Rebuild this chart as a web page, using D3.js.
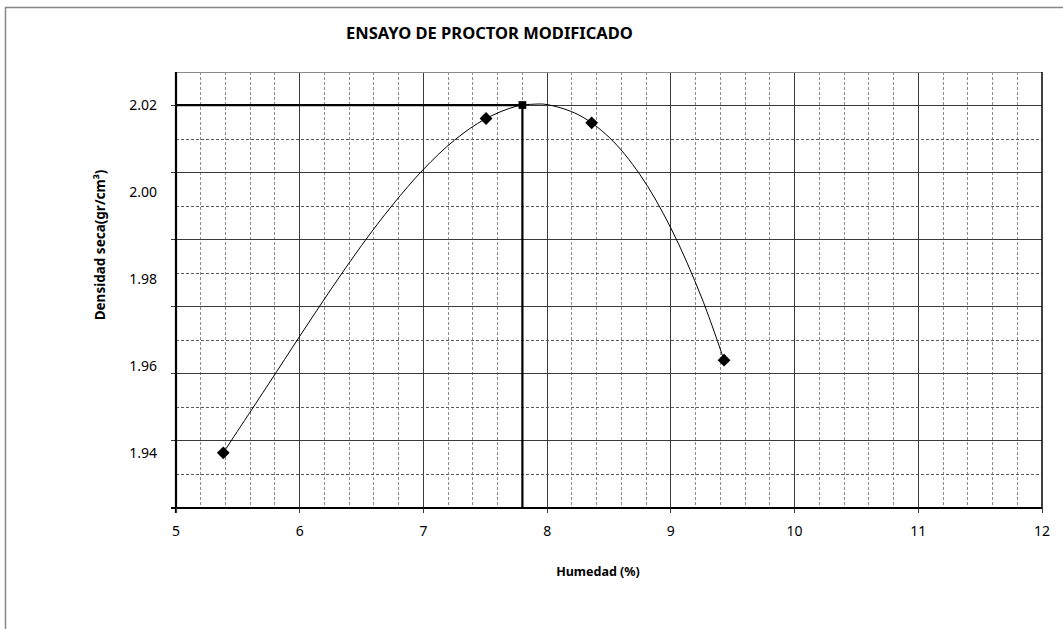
<!DOCTYPE html>
<html>
<head>
<meta charset="utf-8">
<title>Ensayo de Proctor modificado</title>
<script src="https://cdn.jsdelivr.net/npm/d3@7"></script>
<style>
  body{margin:0;background:#fff;font-family:"Noto Sans",sans-serif;}
  .tick-label{font-size:14px;fill:#000;}
  .axis-title{font-weight:700;fill:#000;}
</style>
</head>
<body>
<div id="chart"></div>
<script>
// puntos del ensayo
var humedad  = [5.382, 7.506, 8.36, 9.43];
var densidad = [1.9400, 2.0169, 2.0159, 1.9613];

// curva de ajuste
var curvaX = [5.382, 5.75, 6.0, 6.25, 6.5, 6.75, 7.0, 7.25, 7.5, 7.75, 7.9, 8.0, 8.25, 8.5, 8.75, 9.0, 9.25, 9.43];
var curvaY = [1.9400, 1.9559, 1.9668, 1.9775, 1.9877, 1.9970, 2.0052, 2.0119, 2.0168, 2.0197, 2.0202, 2.0201, 2.0178, 2.0126, 2.0040, 1.9917, 1.9756, 1.9613];

// densidad maxima / humedad optima
var maxHumedad = 7.8, maxDensidad = 2.02;

var xTicks = [5, 6, 7, 8, 9, 10, 11, 12];
var yTicks = [2.02, 2.00, 1.98, 1.96, 1.94];

var margin = {top: 72, left: 176, right: 21, bottom: 121},
    W = 1063, H = 629,
    width = W - margin.left - margin.right,
    height = H - margin.top - margin.bottom;

var svg = d3.select("#chart").append("svg")
    .attr("width", W).attr("height", H);

// marco exterior (cortado a la derecha y abajo)
svg.append("rect")
    .attr("x", 5.5).attr("y", 7.5)
    .attr("width", W + 20).attr("height", H + 20)
    .attr("fill", "none").attr("stroke", "#878787").attr("stroke-width", 1.5);

svg.append("text")
    .attr("x", 346).attr("y", 39)
    .style("font-size", "16.5px").style("font-weight", "700")
    .text("ENSAYO DE PROCTOR MODIFICADO");

var g = svg.append("g").attr("transform", "translate(" + margin.left + "," + margin.top + ")");

var x = d3.scaleLinear().domain([5, 12]).range([0, width]);
var y = d3.scaleLinear().domain([1.9273, 2.0276]).range([height, 0]);
// la cuadricula horizontal no coincide con las etiquetas
var gy = d3.scaleLinear().domain([0, 13]).range([height, 0]);

// cuadricula vertical
x.ticks(35).forEach(function(v){
  var major = Math.abs(v - Math.round(v)) < 1e-6;
  if(v <= 5 || v >= 12) return;
  g.append("line")
    .attr("x1", x(v)).attr("x2", x(v)).attr("y1", 0).attr("y2", height)
    .attr("stroke", major ? "#3a3a3a" : "#8c8c8c")
    .attr("stroke-width", 1)
    .attr("stroke-dasharray", major ? null : "3,2")
    .attr("shape-rendering", "crispEdges");
});

// cuadricula horizontal
d3.range(1, 13).forEach(function(i){
  var major = i % 2 == 0;
  g.append("line")
    .attr("x1", 0).attr("x2", width).attr("y1", gy(i)).attr("y2", gy(i))
    .attr("stroke", major ? "#3a3a3a" : "#5a5a5a")
    .attr("stroke-width", 1)
    .attr("stroke-dasharray", major ? null : "3,2")
    .attr("shape-rendering", "crispEdges");
  if(major){
    g.append("line")
      .attr("x1", -5).attr("x2", 0).attr("y1", gy(i)).attr("y2", gy(i))
      .attr("stroke", "#3a3a3a").attr("shape-rendering", "crispEdges");
  }
});

// borde superior y derecho
g.append("line").attr("x1", 0).attr("x2", width).attr("y1", gy(13)).attr("y2", gy(13))
  .attr("stroke", "#8a8a8a").attr("shape-rendering", "crispEdges");
g.append("line").attr("x1", width).attr("x2", width).attr("y1", 0).attr("y2", height)
  .attr("stroke", "#000").attr("stroke-width", 1.5);

// ejes
g.append("line").attr("x1", 0).attr("x2", 0).attr("y1", 0).attr("y2", height + 5)
  .attr("stroke", "#000").attr("stroke-width", 2.2);
g.append("line").attr("x1", -5).attr("x2", width).attr("y1", height).attr("y2", height)
  .attr("stroke", "#000").attr("stroke-width", 2.2);

xTicks.forEach(function(v){
  g.append("line").attr("x1", x(v)).attr("x2", x(v)).attr("y1", height).attr("y2", height + 5)
    .attr("stroke", "#3a3a3a").attr("shape-rendering", "crispEdges");
  g.append("text").attr("class", "tick-label")
    .attr("x", x(v)).attr("y", height + 28)
    .attr("text-anchor", "middle").text(v);
});

yTicks.forEach(function(v){
  g.append("text").attr("class", "tick-label")
    .attr("x", -19).attr("y", y(v) + 5)
    .attr("text-anchor", "end").text(v.toFixed(2));
});

// titulos de ejes
svg.append("text").attr("class", "axis-title")
  .style("font-size", "12.5px")
  .attr("x", 598).attr("y", 576).attr("text-anchor", "middle")
  .text("Humedad (%)");
svg.append("text").attr("class", "axis-title")
  .style("font-size", "13.5px")
  .attr("transform", "translate(104.5,245) rotate(-90)")
  .attr("text-anchor", "middle")
  .text("Densidad seca(gr/cm³)");

// lineas de densidad maxima
g.append("line")
  .attr("x1", 0).attr("x2", x(maxHumedad)).attr("y1", y(maxDensidad)).attr("y2", y(maxDensidad))
  .attr("stroke", "#000").attr("stroke-width", 2.2);
g.append("line")
  .attr("x1", x(maxHumedad)).attr("x2", x(maxHumedad)).attr("y1", y(maxDensidad)).attr("y2", height)
  .attr("stroke", "#000").attr("stroke-width", 2.2);

// curva
var curva = curvaX.map(function(v, i){ return [v, curvaY[i]]; });
g.append("path")
  .datum(curva)
  .attr("d", d3.line().x(function(d){ return x(d[0]); }).y(function(d){ return y(d[1]); }).curve(d3.curveCatmullRom))
  .attr("fill", "none").attr("stroke", "#000").attr("stroke-width", 1);

// puntos
var puntos = humedad.map(function(v, i){ return [v, densidad[i]]; });
g.selectAll(".pt").data(puntos).enter().append("path")
  .attr("class", "pt")
  .attr("d", d3.symbol().type(d3.symbolSquare).size(82))
  .attr("transform", function(d){ return "translate(" + x(d[0]) + "," + y(d[1]) + ") rotate(45)"; })
  .attr("fill", "#000");

g.append("path")
  .attr("d", d3.symbol().type(d3.symbolSquare).size(60))
  .attr("transform", "translate(" + x(maxHumedad) + "," + y(maxDensidad) + ")")
  .attr("fill", "#000");
</script>
</body>
</html>
